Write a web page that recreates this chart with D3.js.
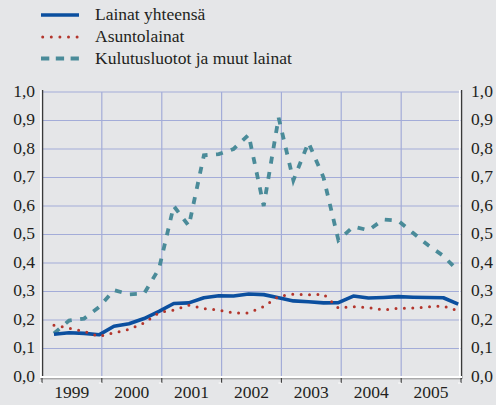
<!DOCTYPE html>
<html>
<head>
<meta charset="utf-8">
<script src="https://cdn.jsdelivr.net/npm/d3@7"></script>
<style>
  html, body { margin: 0; padding: 0; background: #e5e6e8; }
  svg { display: block; }
</style>
</head>
<body>
<svg id="chart" width="496" height="405"></svg>
<script>
// ---- data (quarterly, 1999Q1 .. 2005Q4) ----
const years = [1999, 2000, 2001, 2002, 2003, 2004, 2005];
const quarters = [1, 2, 3, 4];
const seriesNames = ["Lainat yhteensä", "Asuntolainat", "Kulutusluotot ja muut lainat"];
const lainatYhteensa = [
  0.150, 0.155, 0.153, 0.148, 0.178, 0.187, 0.205, 0.230,
  0.258, 0.260, 0.278, 0.285, 0.284, 0.291, 0.289, 0.278,
  0.267, 0.264, 0.260, 0.261, 0.284, 0.277, 0.279, 0.282,
  0.280, 0.279, 0.278, 0.256
];
const asuntolainat = [
  0.182, 0.171, 0.160, 0.142, 0.155, 0.167, 0.190, 0.226,
  0.235, 0.252, 0.240, 0.235, 0.225, 0.225, 0.247, 0.283,
  0.291, 0.288, 0.291, 0.242, 0.247, 0.244, 0.235, 0.241,
  0.242, 0.246, 0.249, 0.232
];
const kulutusluotot = [
  0.153, 0.198, 0.205, 0.245, 0.305, 0.290, 0.293, 0.380,
  0.600, 0.530, 0.778, 0.782, 0.800, 0.850, 0.600, 0.910,
  0.690, 0.823, 0.700, 0.480, 0.528, 0.515, 0.553, 0.548,
  0.505, 0.462, 0.425, 0.372
];
const yTicks = [0, 0.1, 0.2, 0.3, 0.4, 0.5, 0.6, 0.7, 0.8, 0.9, 1.0];
const yTickLabels = ["0,0", "0,1", "0,2", "0,3", "0,4", "0,5", "0,6", "0,7", "0,8", "0,9", "1,0"];

// ---- dates for each quarter (middle of the last month of the quarter) ----
const dates = [];
years.forEach(y => quarters.forEach(q => dates.push(new Date(y, q * 3 - 1, 15))));

const FONT = "'Liberation Serif', 'Times New Roman', Times, 'DejaVu Serif', serif";
const svg = d3.select("#chart");
const L = 42, R = 461, T = 92, B = 377;

const x = d3.scaleTime()
  .domain([new Date(years[0], 0, 1), new Date(years[years.length - 1] + 1, 0, 1)])
  .range([L, R]);
const y = d3.scaleLinear().domain([0, 1]).range([B, T]);

const colBlue = "#0b4f9f", colRed = "#b3352c", colTeal = "#4a8b99";
const gridCol = "#a3acd8";

// grid
const yearStarts = years.map(v => new Date(v, 0, 1)).concat([new Date(years[years.length - 1] + 1, 0, 1)]);
svg.append("g").selectAll("line").data(yTicks.slice(1)).join("line")
  .attr("x1", L).attr("x2", R)
  .attr("y1", d => y(d)).attr("y2", d => y(d))
  .attr("stroke", gridCol).attr("stroke-width", 1.2);
svg.append("g").selectAll("line").data(yearStarts.slice(1, -1)).join("line")
  .attr("x1", d => x(d)).attr("x2", d => x(d))
  .attr("y1", T).attr("y2", B)
  .attr("stroke", gridCol).attr("stroke-width", 1.2);

// axes frame
svg.append("line").attr("x1", L - 1.2).attr("x2", L - 1.2).attr("y1", T - 2).attr("y2", B + 2)
  .attr("stroke", "#ffffff").attr("stroke-width", 1.5);
svg.append("line").attr("x1", L + 0.6).attr("x2", L + 0.6).attr("y1", T - 2).attr("y2", B + 1)
  .attr("stroke", "#3a3a3a").attr("stroke-width", 1.3);
svg.append("line").attr("x1", R - 1.3).attr("x2", R - 1.3).attr("y1", T - 2).attr("y2", B + 1)
  .attr("stroke", "#ffffff").attr("stroke-width", 1.5);
svg.append("line").attr("x1", R + 0.6).attr("x2", R + 0.6).attr("y1", T - 2).attr("y2", B + 2)
  .attr("stroke", "#3a3a3a").attr("stroke-width", 1.3);
svg.append("line").attr("x1", L - 2).attr("x2", R + 1).attr("y1", B).attr("y2", B)
  .attr("stroke", "#ffffff").attr("stroke-width", 2);
svg.append("line").attr("x1", L - 2).attr("x2", R + 1).attr("y1", B + 1.8).attr("y2", B + 1.8)
  .attr("stroke", "#6a6a6a").attr("stroke-width", 0.7);

// x ticks
svg.append("g").selectAll("path").data(yearStarts).join("path")
  .attr("d", d => `M${x(d)},${B + 1}V${B + 6}`)
  .attr("stroke", "#3a3a3a").attr("stroke-width", 1.1).attr("fill", "none");
svg.append("g").selectAll("path").data(yearStarts).join("path")
  .attr("d", d => `M${x(d) - 3},${B + 6}H${x(d)}`)
  .attr("stroke", "#ffffff").attr("stroke-width", 1).attr("fill", "none");

// x labels
svg.append("g").selectAll("text").data(years).join("text")
  .attr("x", d => x(new Date(d, 6, 2)))
  .attr("y", 398)
  .attr("text-anchor", "middle")
  .attr("font-family", FONT).attr("font-size", 17.5).attr("fill", "#231f20")
  .text(d => d);

// y labels, left and right
svg.append("g").selectAll("text").data(yTicks).join("text")
  .attr("x", 35).attr("y", d => y(d) + 4.5)
  .attr("text-anchor", "end")
  .attr("font-family", FONT).attr("font-size", 17.5).attr("fill", "#231f20")
  .text((d, i) => yTickLabels[i]);
svg.append("g").selectAll("text").data(yTicks).join("text")
  .attr("x", 471).attr("y", d => y(d) + 4.5)
  .attr("text-anchor", "start")
  .attr("font-family", FONT).attr("font-size", 17.5).attr("fill", "#231f20")
  .text((d, i) => yTickLabels[i]);

// lines
const line = d3.line().x((d, i) => x(dates[i])).y(d => y(d));
svg.append("path").datum(kulutusluotot).attr("d", line)
  .attr("fill", "none").attr("stroke", colTeal).attr("stroke-width", 3.8)
  .attr("stroke-dasharray", "7,8.5");
svg.append("path").datum(lainatYhteensa).attr("d", line)
  .attr("fill", "none").attr("stroke", colBlue).attr("stroke-width", 3.6)
  .attr("stroke-linejoin", "round");
svg.append("path").datum(asuntolainat).attr("d", line)
  .attr("fill", "none").attr("stroke", colRed).attr("stroke-width", 3)
  .attr("stroke-linecap", "round").attr("stroke-dasharray", "0,8.4");

// legend
const legY = [15, 37, 58.5];
const lg = svg.append("g");
lg.append("line").attr("x1", 41).attr("x2", 79).attr("y1", legY[0]).attr("y2", legY[0])
  .attr("stroke", colBlue).attr("stroke-width", 3.6);
lg.append("line").attr("x1", 42.7).attr("x2", 79).attr("y1", legY[1]).attr("y2", legY[1])
  .attr("stroke", colRed).attr("stroke-width", 3).attr("stroke-linecap", "round")
  .attr("stroke-dasharray", "0,8.6");
lg.append("line").attr("x1", 41).attr("x2", 79).attr("y1", legY[2]).attr("y2", legY[2])
  .attr("stroke", colTeal).attr("stroke-width", 3.8).attr("stroke-dasharray", "8.3,6.5");
lg.selectAll("text").data(seriesNames).join("text")
  .attr("x", 95).attr("y", (d, i) => legY[i] + 5)
  .attr("font-family", FONT).attr("font-size", 17.5).attr("fill", "#231f20")
  .text(d => d);
</script>
</body>
</html>
